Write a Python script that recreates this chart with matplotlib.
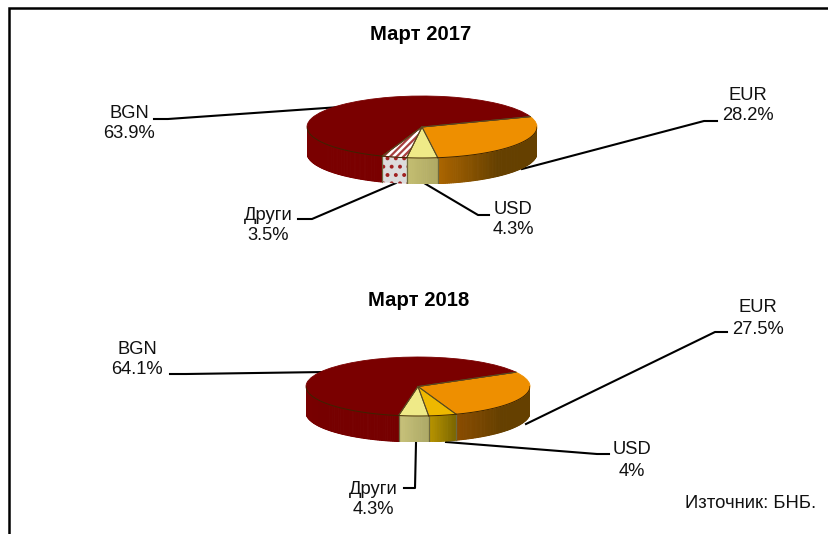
import matplotlib
matplotlib.use("Agg")
import matplotlib.pyplot as plt
import numpy as np
from matplotlib.colors import to_rgb

W, H = 829, 534

labels = ['EUR', 'USD', 'Други', 'BGN']
shares_2017 = [28.2, 4.3, 3.5, 63.9]
shares_2018 = [27.5, 4.0, 4.3, 64.1]
titles = ['Март 2017', 'Март 2018']
source = 'Източник: БНБ.'

plt.rcParams['font.family'] = ['Liberation Sans', 'DejaVu Sans']
plt.rcParams['hatch.linewidth'] = 1.6


def draw_pie(fig, values, box, startangle, tops, sides):
    # box is left, top, half width, half height, depth in pixels
    left, top, a, b, depth = box
    d = depth / b
    height = 2 * b + depth
    ax = fig.add_axes([left / W, 1 - (top + height) / H, 2 * a / W, height / H], zorder=3)
    wedges, _ = ax.pie(values, startangle=startangle, counterclock=False, colors=[t[0] for t in tops])
    ax.set_aspect('auto')
    ax.set_xlim(-1, 1)
    ax.set_ylim(-1 - d, 1)
    for w, top_style, side in zip(wedges, tops, sides):
        w.set_zorder(3)
        w.set_linewidth(0.6)
        w.set_edgecolor(top_style[0])
        if top_style[1]:
            w.set_hatch(top_style[1])
            w.set_edgecolor('#a84040')
        # slice borders on the top face only
        for t in (w.theta1, w.theta2):
            r = np.radians(t)
            ax.plot([0, np.cos(r)], [0, np.sin(r)], color='#5a4a20', lw=0.7, zorder=4)
        t1 = max(w.theta1, -180)
        t2 = min(w.theta2, 0)
        if t2 <= t1:
            continue
        c1, c2, hatch = side
        if hatch:
            th = np.radians(np.linspace(t1, t2, 30))
            x = np.r_[np.cos(th), np.cos(th[::-1])]
            y = np.r_[np.sin(th), np.sin(th[::-1]) - d]
            ax.fill(x, y, facecolor=c1, edgecolor=c2, hatch=hatch, linewidth=0, zorder=1)
        else:
            # strips for the gradient along the rim, wide slices darken early
            edges = np.linspace(t1, t2, int(t2 - t1) + 2)
            rate = 2.5 if t2 - t1 > 30 else 1
            for i in range(len(edges) - 1):
                f = min(1, rate * i / max(len(edges) - 2, 1))
                col = tuple((1 - f) * p + f * q for p, q in zip(to_rgb(c1), to_rgb(c2)))
                th = np.radians(np.linspace(edges[i], edges[i + 1], 4))
                x = np.r_[np.cos(th), np.cos(th[::-1])]
                y = np.r_[np.sin(th), np.sin(th[::-1]) - d]
                ax.fill(x, y, facecolor=col, edgecolor=col, linewidth=0.7, zorder=1)
        # rim and slice edges
        th = np.radians(np.linspace(t1, t2, 60))
        ax.plot(np.cos(th), np.sin(th), color='#3c2400', lw=0.7, zorder=4)
        for t in (t1, t2):
            if -180 < t < 0:
                r = np.radians(t)
                ax.plot([np.cos(r)] * 2, [np.sin(r), np.sin(r) - d], color='#6e6a40', lw=0.8, zorder=2)
    return ax


fig = plt.figure(figsize=(W / 100, H / 100), dpi=100, facecolor='white')
bg = fig.add_axes([0, 0, 1, 1], zorder=1)
bg.set_xlim(0, W)
bg.set_ylim(H, 0)
bg.axis('off')

# frame is only on the top and the left
bg.plot([9, 9, W], [H, 7.5, 7.5], color='black', lw=1.8, solid_joinstyle='miter')

draw_pie(fig, shares_2017, (307, 96, 115, 31, 26), 19.5,
         [('#ee8f00', None), ('#efea88', None), ('white', '/////'), ('#7a0000', None)],
         [('#ab6500', '#654000', None), ('#c4be72', '#b0aa64', None),
          ('#dcdcdc', '#a02020', '..'), ('#7a0000', '#7a0000', None)])
draw_pie(fig, shares_2018, (306, 357, 112, 29.5, 26), 29,
         [('#ee8f00', None), ('#eeb800', None), ('#efea88', None), ('#7a0000', None)],
         [('#8a4c00', '#654000', None), ('#b89400', '#7e6800', None),
          ('#c8c27a', '#aeaa68', None), ('#7a0000', '#760000', None)])

leaders = [
    [(154, 119), (168, 119), (340, 107)],
    [(717, 121), (704, 121), (522, 169)],
    [(298, 219), (312, 219), (396, 183)],
    [(489, 215), (478, 215), (424, 183)],
    [(170, 374), (186, 374), (325, 372)],
    [(727, 332), (715, 332), (526, 424)],
    [(609, 454), (597, 454), (446, 442)],
    [(404, 488), (415, 488), (416, 443)],
]
for pts in leaders:
    xs, ys = zip(*pts)
    bg.plot(xs, ys, color='black', lw=1.5)

fs = 13.2
label_pos_2017 = [(748, 96, 116), (513, 209, 230), (268, 215, 235), (129, 114, 134)]
label_pos_2018 = [(758, 308, 329), (632, 450, 471), (373, 489, 509), (137, 350, 370)]
for values, pos in ((shares_2017, label_pos_2017), (shares_2018, label_pos_2018)):
    for name, v, (x, y1, y2) in zip(labels, values, pos):
        bg.text(x, y1, name, ha='center', va='center', fontsize=fs, color='#111111')
        bg.text(x, y2, f'{v:g}%', ha='center', va='center', fontsize=fs, color='#111111')

bg.text(421, 34, titles[0], ha='center', va='center', fontsize=14.6, fontweight='bold')
bg.text(419, 300, titles[1], ha='center', va='center', fontsize=14.6, fontweight='bold')
bg.text(751, 503, source, ha='center', va='center', fontsize=13.3, color='#111111')

fig.savefig('out.png', dpi=100)
